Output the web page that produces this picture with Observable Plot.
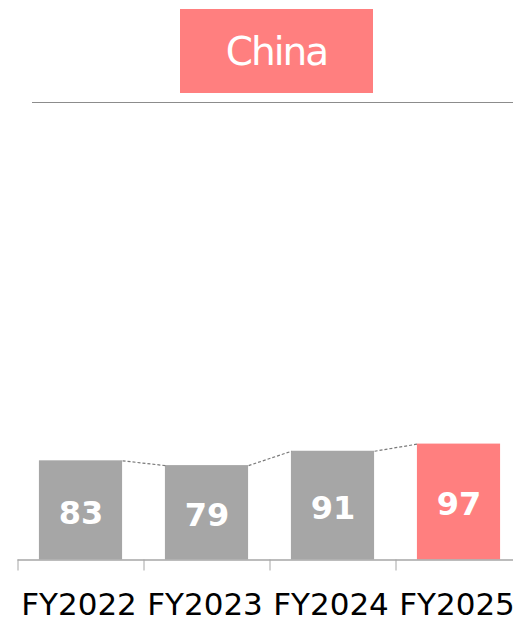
<!DOCTYPE html>
<html><head><meta charset="utf-8">
<script src="https://cdn.jsdelivr.net/npm/d3@7"></script>
<script src="https://cdn.jsdelivr.net/npm/@observablehq/plot@0.6"></script>
<style>
html,body{margin:0;padding:0;background:#fff;overflow:hidden;}
#wrap{position:relative;width:513px;height:621px;overflow:hidden;}
#title{position:absolute;left:180px;top:9px;width:193px;height:84px;background:#FF7F7F;color:#fff;font-family:"DejaVu Sans";font-size:39px;letter-spacing:-2px;display:flex;align-items:center;justify-content:center;}
#rule{position:absolute;left:32px;top:102px;width:481px;border-top:1.5px solid #8c8c8c;}
</style></head><body><div id="wrap"><div id="chart"></div><div id="title">China</div><div id="rule"></div></div>
<script>
const categories = ["FY2022", "FY2023", "FY2024", "FY2025"];
const values = [83, 79, 91, 97];
const barColors = ["#A6A6A6", "#A6A6A6", "#A6A6A6", "#FF7F7F"];

const half = 0.33;
const data = categories.map((c, i) => ({i, cat: c, value: values[i], color: barColors[i]}));
const links = values.slice(0, -1).map((v, i) => ({x1: i + half, x2: i + 1 - half, y1: v, y2: values[i + 1]}));
const boundaries = categories.map((_, i) => i - 0.5);

const chart = Plot.plot({
  width: 513,
  height: 621,
  marginLeft: 17.5,
  marginRight: 0,
  marginTop: 0,
  marginBottom: 61.5,
  style: {fontFamily: "DejaVu Sans", background: "transparent"},
  x: {type: "linear", domain: [-0.5, 3.5], range: [17.5, 521.5], axis: null},
  y: {domain: [0, 100], range: [559.5, 440], axis: null},
  color: {type: "identity"},
  marks: [
    Plot.rect(data, {x1: d => d.i - half, x2: d => d.i + half, y1: 0, y2: "value", fill: "color"}),
    Plot.link(links, {x1: "x1", y1: "y1", x2: "x2", y2: "y2", stroke: "#7a7a7a", strokeWidth: 1.2, strokeDasharray: "3,2"}),
    Plot.text(data, {x: "i", y: d => d.value / 2, text: d => String(d.value), fill: "white", fontSize: 32, fontWeight: "bold", fontFamily: "DejaVu Sans", dy: 3}),
    Plot.ruleY([0], {stroke: "#a6a6a6", strokeWidth: 1.5}),
    Plot.axisX({ticks: boundaries, tickSize: 11, tickFormat: () => "", stroke: "#a6a6a6", strokeOpacity: 1}),
    Plot.axisX({ticks: categories.map((_, i) => i), tickSize: 0, tickPadding: 33, dx: -2, tickFormat: i => categories[i], fontSize: 31, fontFamily: "DejaVu Sans", fill: "black"})
  ]
});
document.getElementById("chart").appendChild(chart);
</script>
</body></html>
